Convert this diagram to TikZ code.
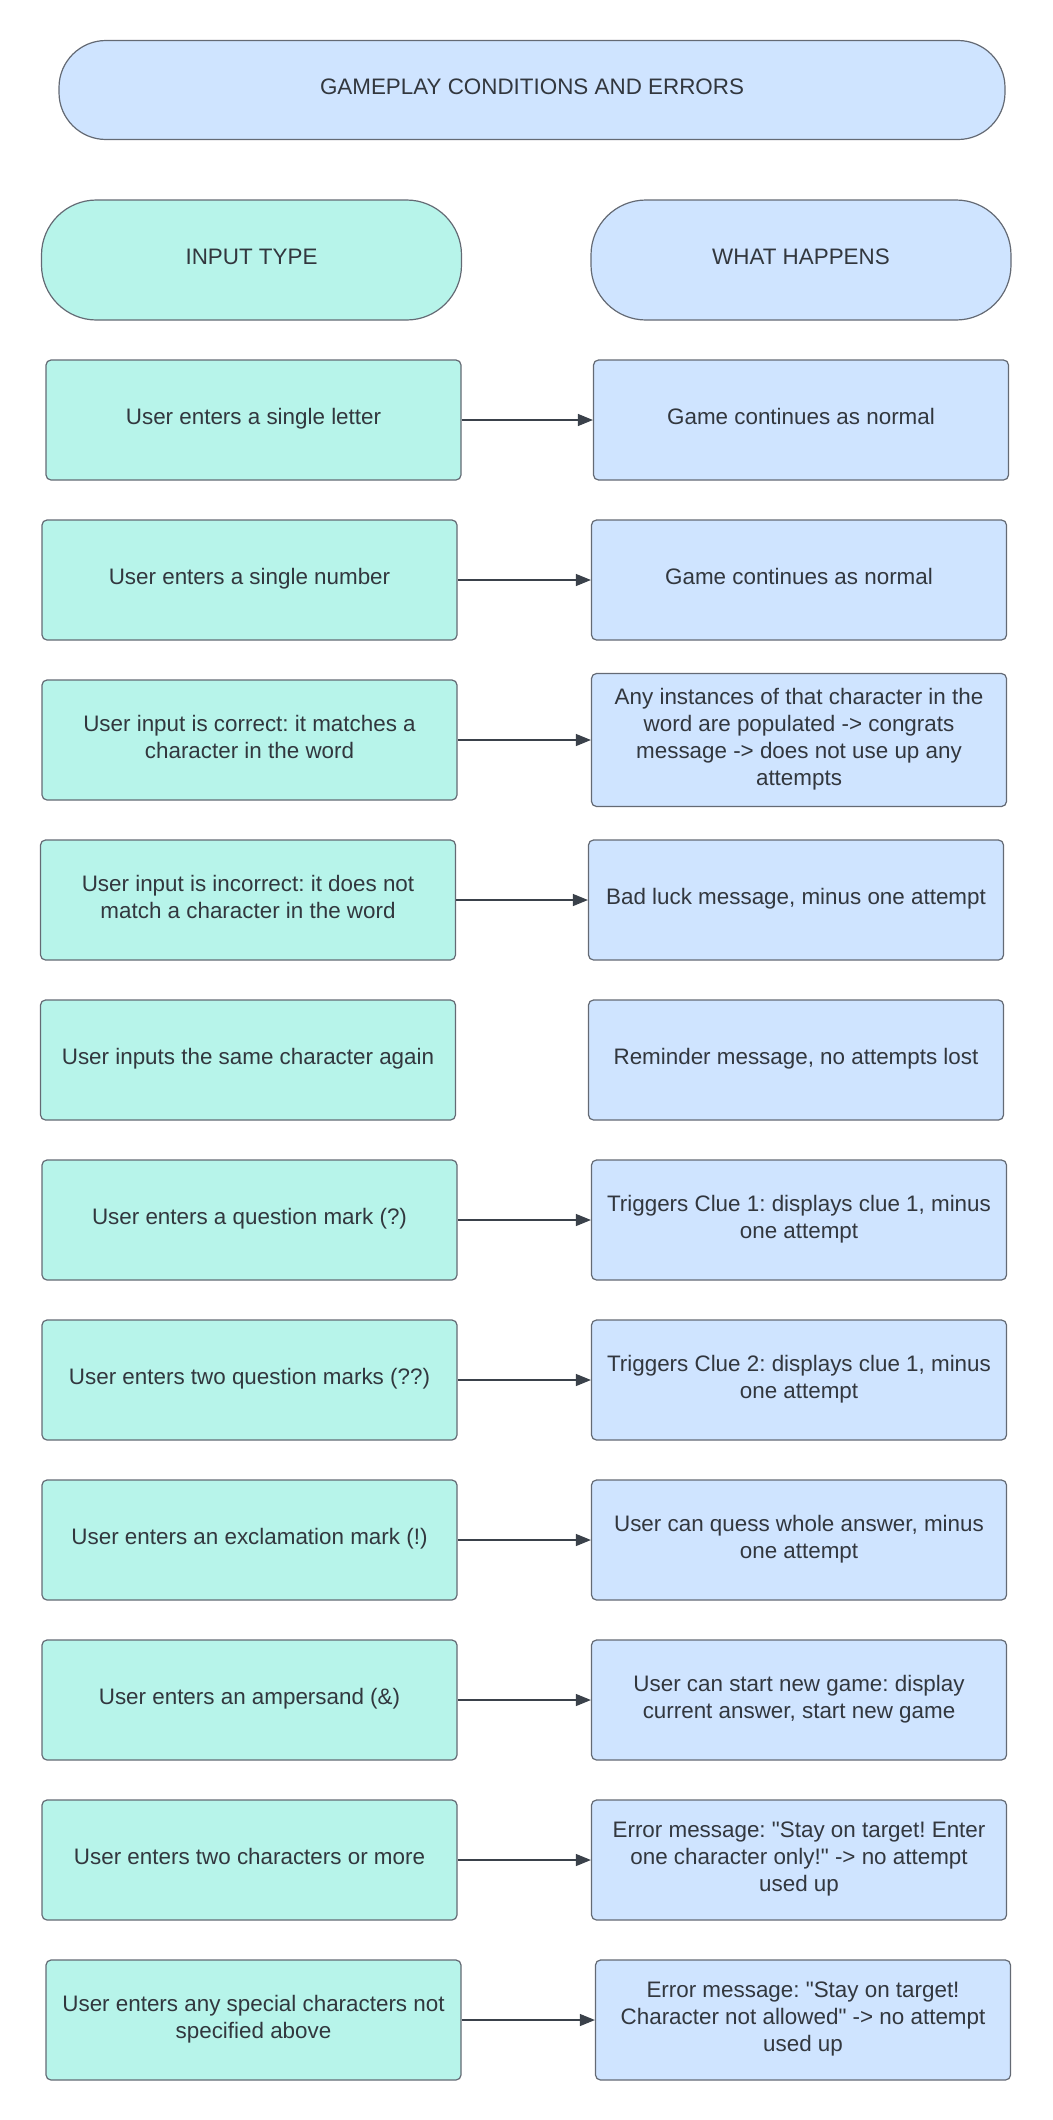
\documentclass[tikz,border=0pt]{standalone}
\usepackage{fontspec}
\setmainfont{Liberation Sans}[Ligatures=TeXOff]
\usepackage{tikz}
\usetikzlibrary{arrows.meta}
\definecolor{cinput}{RGB}{183,244,234}
\definecolor{cresult}{RGB}{207,228,255}
\definecolor{cedge}{RGB}{100,106,116}
\definecolor{ctext}{RGB}{50,55,62}
\definecolor{cline}{RGB}{58,65,74}
\frenchspacing

\begin{document}
\begin{tikzpicture}[x=1pt,y=-1pt,
	every node/.style={font=\fontsize{22.4}{27}\selectfont, text=ctext, align=center, inner sep=0pt, text depth=7pt},
	head/.style={draw=cedge, line width=1.2pt, minimum height=120pt, minimum width=420pt, rounded corners=55pt},
	inbox/.style={draw=cedge, line width=1.2pt, fill=cinput, minimum width=415pt, minimum height=120pt, rounded corners=5pt},
	outbox/.style={draw=cedge, line width=1.2pt, fill=cresult, minimum width=415pt, minimum height=120pt, rounded corners=5pt},
	link/.style={draw=cline, line width=1.2pt, -{Triangle[length=15pt,width=12pt]}}]
	\useasboundingbox (0,0) rectangle (1052,2120);

	% headings
	\node[head, fill=cresult, minimum width=946pt, minimum height=99pt, rounded corners=47pt] (title) at (532,90) {GAMEPLAY CONDITIONS AND ERRORS};
	\node[head, fill=cinput] (inhead) at (251.5,260) {INPUT TYPE};
	\node[head, fill=cresult] (outhead) at (801,260) {WHAT HAPPENS};

	% input types
	\node[inbox] (in1)  at (253.5,420)  {User enters a single letter};
	\node[inbox] (in2)  at (249.5,580)  {User enters a single number};
	\node[inbox] (in3)  at (249.5,740)  {User input is correct: it matches a\\character in the word};
	\node[inbox] (in4)  at (248,900)    {User input is incorrect: it does not\\match a character in the word};
	\node[inbox] (in5)  at (248,1060)   {User inputs the same character again};
	\node[inbox] (in6)  at (249.5,1220) {User enters a question mark (?)};
	\node[inbox] (in7)  at (249.5,1380) {User enters two question marks (??)};
	\node[inbox] (in8)  at (249.5,1540) {User enters an exclamation mark (!)};
	\node[inbox] (in9)  at (249.5,1700) {User enters an ampersand (\&)};
	\node[inbox] (in10) at (249.5,1860) {User enters two characters or more};
	\node[inbox] (in11) at (253.5,2020) {User enters any special characters not\\specified above};

	% what happens
	\node[outbox] (out1)  at (801,420)  {Game continues as normal};
	\node[outbox] (out2)  at (799,580)  {Game continues as normal};
	\node[outbox, minimum height=133pt] (out3) at (799,740) {Any instances of that character in the\\word are populated -> congrats\\message -> does not use up any\\attempts};
	\node[outbox] (out4)  at (796,900)  {Bad luck message, minus one attempt};
	\node[outbox] (out5)  at (796,1060) {Reminder message, no attempts lost};
	\node[outbox] (out6)  at (799,1220) {Triggers Clue 1: displays clue 1, minus\\one attempt};
	\node[outbox] (out7)  at (799,1380) {Triggers Clue 2: displays clue 1, minus\\one attempt};
	\node[outbox] (out8)  at (799,1540) {User can quess whole answer, minus\\one attempt};
	\node[outbox] (out9)  at (799,1700) {User can start new game: display\\current answer, start new game};
	\node[outbox] (out10) at (799,1860) {Error message: "Stay on target! Enter\\one character only!" -> no attempt\\used up};
	\node[outbox] (out11) at (803,2020) {Error message: "Stay on target!\\Character not allowed" -> no attempt\\used up};

	% arrows
	\draw[link] (in1) -- (out1);
	\draw[link] (in2) -- (out2);
	\draw[link] (in3) -- (out3);
	\draw[link] (in4) -- (out4);
	\draw[link] (in6) -- (out6);
	\draw[link] (in7) -- (out7);
	\draw[link] (in8) -- (out8);
	\draw[link] (in9) -- (out9);
	\draw[link] (in10) -- (out10);
	\draw[link] (in11) -- (out11);

\end{tikzpicture}
\end{document}
